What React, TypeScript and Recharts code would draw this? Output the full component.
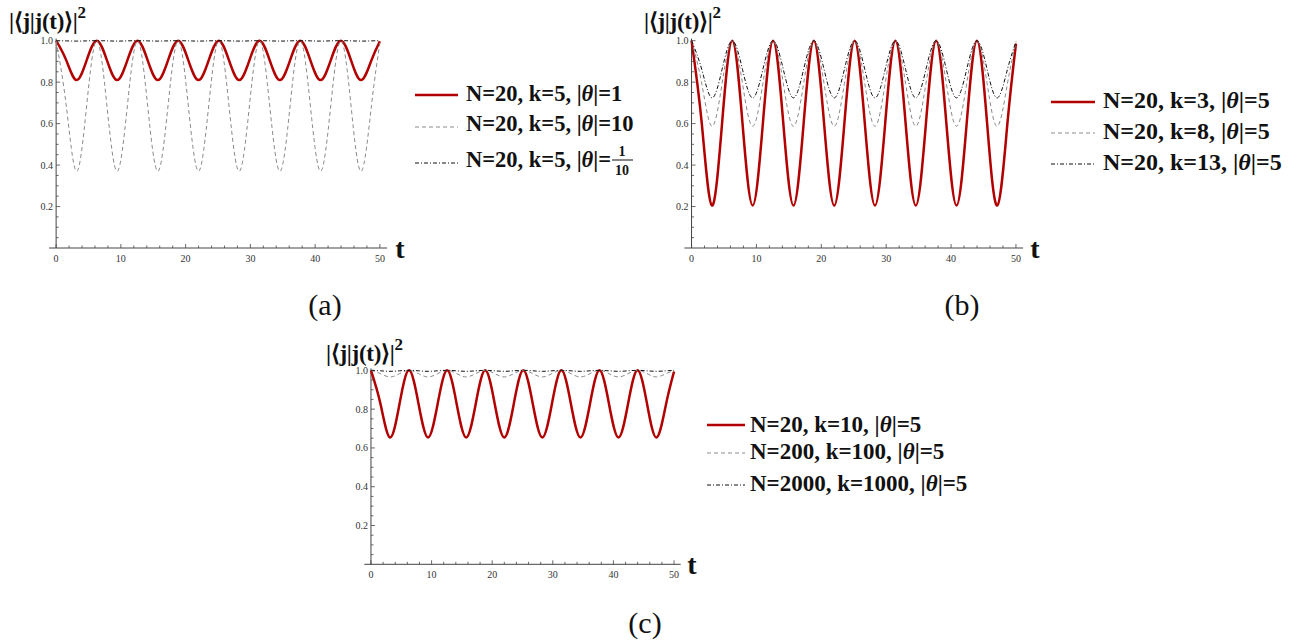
import React from 'react';
import { LineChart, Line, XAxis, YAxis, ReferenceLine } from 'recharts';

// sample times: quarter periods of the 2*pi oscillation, plus the end point
const tValues = [0, 1.57, 3.14, 4.71, 6.28, 7.85, 9.42, 11.0, 12.57, 14.14, 15.71, 17.28, 18.85, 20.42, 21.99, 23.56, 25.13, 26.7, 28.27, 29.85, 31.42, 32.99, 34.56, 36.13, 37.7, 39.27, 40.84, 42.41, 43.98, 45.55, 47.12, 48.69, 50];

// (a) N=20, k=5, |theta| = 1, 10, 1/10
const aTheta1 = [1, 0.905, 0.81, 0.905, 1, 0.905, 0.81, 0.905, 1, 0.905, 0.81, 0.905, 1, 0.905, 0.81, 0.905, 1, 0.905, 0.81, 0.905, 1, 0.905, 0.81, 0.905, 1, 0.905, 0.81, 0.905, 1, 0.905, 0.81, 0.905, 0.997];
const aTheta10 = [1, 0.685, 0.37, 0.685, 1, 0.685, 0.37, 0.685, 1, 0.685, 0.37, 0.685, 1, 0.685, 0.37, 0.685, 1, 0.685, 0.37, 0.685, 1, 0.685, 0.37, 0.685, 1, 0.685, 0.37, 0.685, 1, 0.685, 0.37, 0.685, 0.989];
const aTheta01 = [1, 0.999, 0.998, 0.999, 1, 0.999, 0.998, 0.999, 1, 0.999, 0.998, 0.999, 1, 0.999, 0.998, 0.999, 1, 0.999, 0.998, 0.999, 1, 0.999, 0.998, 0.999, 1, 0.999, 0.998, 0.999, 1, 0.999, 0.998, 0.999, 1];

// (b) N=20, |theta|=5, k = 3, 8, 13
const bK3 = [1, 0.603, 0.205, 0.603, 1, 0.603, 0.205, 0.603, 1, 0.603, 0.205, 0.603, 1, 0.603, 0.205, 0.603, 1, 0.603, 0.205, 0.603, 1, 0.603, 0.205, 0.603, 1, 0.603, 0.205, 0.603, 1, 0.603, 0.205, 0.603, 0.986];
const bK8 = [1, 0.794, 0.587, 0.794, 1, 0.794, 0.587, 0.794, 1, 0.794, 0.587, 0.794, 1, 0.794, 0.587, 0.794, 1, 0.794, 0.587, 0.794, 1, 0.794, 0.587, 0.794, 1, 0.794, 0.587, 0.794, 1, 0.794, 0.587, 0.794, 0.993];
const bK13 = [1, 0.862, 0.724, 0.862, 1, 0.862, 0.724, 0.862, 1, 0.862, 0.724, 0.862, 1, 0.862, 0.724, 0.862, 1, 0.862, 0.724, 0.862, 1, 0.862, 0.724, 0.862, 1, 0.862, 0.724, 0.862, 1, 0.862, 0.724, 0.862, 0.995];

// (c) |theta|=5, k = N/2 for N = 20, 200, 2000
const cN20 = [1, 0.827, 0.654, 0.827, 1, 0.827, 0.654, 0.827, 1, 0.827, 0.654, 0.827, 1, 0.827, 0.654, 0.827, 1, 0.827, 0.654, 0.827, 1, 0.827, 0.654, 0.827, 1, 0.827, 0.654, 0.827, 1, 0.827, 0.654, 0.827, 0.994];
const cN200 = [1, 0.983, 0.966, 0.983, 1, 0.983, 0.966, 0.983, 1, 0.983, 0.966, 0.983, 1, 0.983, 0.966, 0.983, 1, 0.983, 0.966, 0.983, 1, 0.983, 0.966, 0.983, 1, 0.983, 0.966, 0.983, 1, 0.983, 0.966, 0.983, 0.999];
const cN2000 = [1, 0.9975, 0.995, 0.9975, 1, 0.9975, 0.995, 0.9975, 1, 0.9975, 0.995, 0.9975, 1, 0.9975, 0.995, 0.9975, 1, 0.9975, 0.995, 0.9975, 1, 0.9975, 0.995, 0.9975, 1, 0.9975, 0.995, 0.9975, 1, 0.9975, 0.995, 0.9975, 1];

const xTicks = [0, 2, 4, 6, 8, 10, 12, 14, 16, 18, 20, 22, 24, 26, 28, 30, 32, 34, 36, 38, 40, 42, 44, 46, 48, 50];
const yTicks = [0.05, 0.1, 0.15, 0.2, 0.25, 0.3, 0.35, 0.4, 0.45, 0.5, 0.55, 0.6, 0.65, 0.7, 0.75, 0.8, 0.85, 0.9, 0.95, 1.0];
const xLabels = [0, 10, 20, 30, 40, 50];
const yLabels = [0.2, 0.4, 0.6, 0.8, 1.0];

const SERIF = '"Liberation Serif", "Times New Roman", serif';
const AXIS = '#444';
const RED = '#b20000';
const X_DOMAIN = [-1.1, 51.1];
const Y_DOMAIN = [0, 1.01];
const Y_W = 40;
const X_H = 30;

const styles = {
  solid: { stroke: RED, width: 2.5, dash: undefined },
  dashed: { stroke: '#8a8a8a', width: 1, dash: '4 3' },
  dotdash: { stroke: '#111', width: 1, dash: '4 2 1 2' },
};

const makeRows = (s1, s2, s3) =>
  tValues.map((t, i) => ({ t, s1: s1[i], s2: s2[i], s3: s3[i] }));

const XTick = ({ x, y, payload }) => {
  const major = xLabels.includes(payload.value);
  return (
    <g>
      <line x1={x} x2={x} y1={y} y2={y - (major ? 4 : 2.5)} stroke={AXIS} strokeWidth={0.8} />
      {major && (
        <text x={x} y={y + 14} textAnchor="middle" fontSize={10} fontFamily={SERIF} fill="#333">
          {payload.value}
        </text>
      )}
    </g>
  );
};

const YTick = ({ x, y, payload, off }) => {
  const major = yLabels.some((v) => Math.abs(v - payload.value) < 1e-6);
  const ax = x + off;
  return (
    <g>
      <line x1={ax} x2={ax + (major ? 4 : 2.5)} y1={y} y2={y} stroke={AXIS} strokeWidth={0.8} />
      {major && (
        <text x={ax - 3} y={y + 3.5} textAnchor="end" fontSize={10} fontFamily={SERIF} fill="#333">
          {payload.value.toFixed(1)}
        </text>
      )}
    </g>
  );
};

const Panel = ({ left, top, margin, data }) => {
  const width = 400;
  const height = 290;
  const plotW = width - margin.left - margin.right - Y_W;
  const off = (plotW * (0 - X_DOMAIN[0])) / (X_DOMAIN[1] - X_DOMAIN[0]);
  return (
    <div style={{ position: 'absolute', left, top }}>
      <LineChart width={width} height={height} data={data} margin={margin}>
        <XAxis
          type="number"
          dataKey="t"
          domain={X_DOMAIN}
          ticks={xTicks}
          interval={0}
          height={X_H}
          tickSize={0}
          tickMargin={0}
          tickLine={false}
          axisLine={{ stroke: AXIS, strokeWidth: 1 }}
          tick={(p) => <XTick {...p} />}
        />
        <YAxis
          type="number"
          domain={Y_DOMAIN}
          ticks={yTicks}
          interval={0}
          width={Y_W}
          tickSize={0}
          tickMargin={0}
          tickLine={false}
          axisLine={false}
          tick={(p) => <YTick {...p} off={off} />}
        />
        <ReferenceLine x={0} stroke={AXIS} strokeWidth={1} />
        {['s1', 's2', 's3'].map((k, i) => {
          const st = [styles.solid, styles.dashed, styles.dotdash][i];
          return (
            <Line
              key={k}
              type="natural"
              dataKey={k}
              stroke={st.stroke}
              strokeWidth={st.width}
              strokeDasharray={st.dash}
              dot={false}
              activeDot={false}
              isAnimationActive={false}
            />
          );
        })}
      </LineChart>
    </div>
  );
};

const Theta = () => <tspan fontStyle="italic">θ</tspan>;

const LegendRow = ({ x0, x1, lineY, textX, baseline, fontSize, st, children }) => (
  <g>
    <line x1={x0} x2={x1} y1={lineY} y2={lineY} stroke={st.stroke} strokeWidth={st.width} strokeDasharray={st.dash} />
    <text x={textX} y={baseline} fontSize={fontSize} fontWeight="bold" fontFamily={SERIF} fill="#111">
      {children}
    </text>
  </g>
);

const Title = ({ x, y }) => (
  <text x={x} y={y} fontSize={23} fontWeight="bold" fontFamily={SERIF} letterSpacing={-0.3} fill="#111">
    |⟨j|j(t)⟩|<tspan dy={-11} fontSize={17}>2</tspan>
  </text>
);

const TLabel = ({ x, y }) => (
  <text x={x} y={y} fontSize={28} fontWeight="bold" fontFamily={SERIF} textAnchor="middle" fill="#111">t</text>
);

const SubLabel = ({ x, y, children }) => (
  <text x={x} y={y} fontSize={30} fontFamily={SERIF} textAnchor="middle" fill="#111">{children}</text>
);

const App = () => {
  const rowsA = makeRows(aTheta1, aTheta10, aTheta01);
  const rowsB = makeRows(bK3, bK8, bK13);
  const rowsC = makeRows(cN20, cN200, cN2000);
  return (
    <div style={{ position: 'absolute', left: 0, top: 0, width: 1289, height: 644, background: '#fff' }}>
      <Panel left={0} top={0} margin={{ top: 38.6, right: 13, bottom: 12, left: 9 }} data={rowsA} />
      <Panel left={640} top={0} margin={{ top: 38.6, right: 16.9, bottom: 12, left: 4.4 }} data={rowsB} />
      <Panel left={320} top={330} margin={{ top: 38.4, right: 39.3, bottom: 25.7, left: 4.3 }} data={rowsC} />
      <svg width={1289} height={644} style={{ position: 'absolute', left: 0, top: 0, pointerEvents: 'none' }}>
        <Title x={9} y={29} />
        <Title x={644} y={29} />
        <Title x={326} y={361} />
        <TLabel x={400} y={258} />
        <TLabel x={1035} y={258} />
        <TLabel x={692} y={574} />
        <SubLabel x={325} y={315}>(a)</SubLabel>
        <SubLabel x={962} y={315}>(b)</SubLabel>
        <SubLabel x={645} y={633}>(c)</SubLabel>

        <LegendRow x0={415} x1={458} lineY={95} textX={466} baseline={100.5} fontSize={22.5} st={styles.solid}>
          N=20, k=5, |<Theta />|=1
        </LegendRow>
        <LegendRow x0={415} x1={458} lineY={127} textX={466} baseline={131} fontSize={22.5} st={styles.dashed}>
          N=20, k=5, |<Theta />|=10
        </LegendRow>
        <LegendRow x0={415} x1={458} lineY={163} textX={466} baseline={167} fontSize={22.5} st={styles.dotdash}>
          N=20, k=5, |<Theta />|=
        </LegendRow>
        <text x={622} y={156} fontSize={14} fontWeight="bold" fontFamily={SERIF} textAnchor="middle" fill="#111">1</text>
        <line x1={612} x2={633} y1={160} y2={160} stroke="#111" strokeWidth={1} />
        <text x={622} y={175} fontSize={14} fontWeight="bold" fontFamily={SERIF} textAnchor="middle" fill="#111">10</text>

        <LegendRow x0={1051} x1={1095} lineY={102} textX={1103} baseline={108.3} fontSize={24} st={styles.solid}>
          N=20, k=3, |<Theta />|=5
        </LegendRow>
        <LegendRow x0={1051} x1={1095} lineY={133} textX={1103} baseline={139.3} fontSize={24} st={styles.dashed}>
          N=20, k=8, |<Theta />|=5
        </LegendRow>
        <LegendRow x0={1051} x1={1095} lineY={164} textX={1103} baseline={170} fontSize={24} st={styles.dotdash}>
          N=20, k=13, |<Theta />|=5
        </LegendRow>

        <LegendRow x0={707} x1={745} lineY={425} textX={750} baseline={431.7} fontSize={23} st={styles.solid}>
          N=20, k=10, |<Theta />|=5
        </LegendRow>
        <LegendRow x0={707} x1={745} lineY={453} textX={750} baseline={459.3} fontSize={23} st={styles.dashed}>
          N=200, k=100, |<Theta />|=5
        </LegendRow>
        <LegendRow x0={707} x1={745} lineY={485} textX={750} baseline={491} fontSize={23} st={styles.dotdash}>
          N=2000, k=1000, |<Theta />|=5
        </LegendRow>
      </svg>
    </div>
  );
};

export default App;
